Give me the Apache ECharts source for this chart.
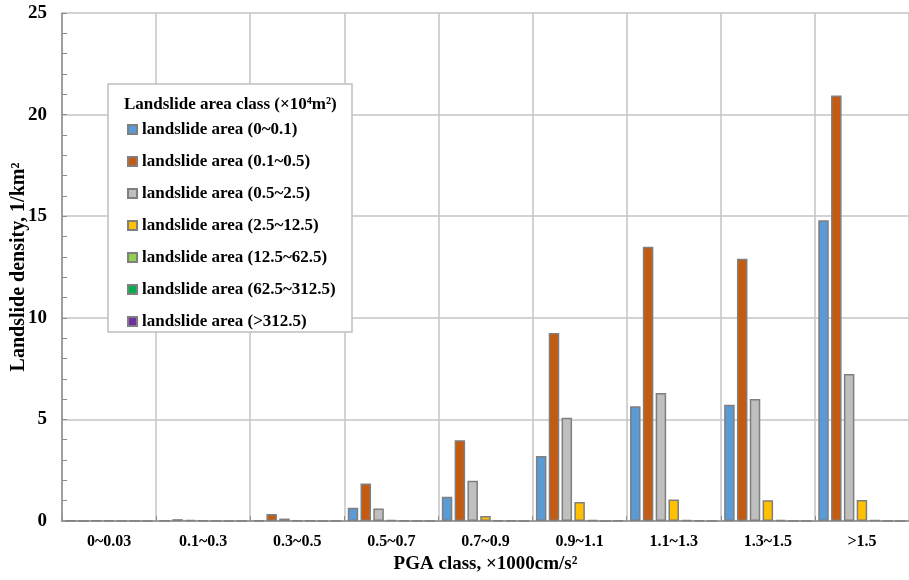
<!DOCTYPE html>
<html><head><meta charset="utf-8">
<script src="https://cdn.jsdelivr.net/npm/echarts@6/dist/echarts.min.js"></script>
<style>html,body{margin:0;padding:0;background:#fff}#c{width:909px;height:580px}</style>
</head><body><div id="c"></div>
<script>
var categories = ['0~0.03','0.1~0.3','0.3~0.5','0.5~0.7','0.7~0.9','0.9~1.1','1.1~1.3','1.3~1.5','>1.5'];
var seriesNames = ['landslide area (0~0.1)','landslide area (0.1~0.5)','landslide area (0.5~2.5)','landslide area (2.5~12.5)','landslide area (12.5~62.5)','landslide area (62.5~312.5)','landslide area (>312.5)'];
var area0_01   = [0.02, 0.02, 0.03, 0.65, 1.19, 3.2, 5.65, 5.72, 14.8];
var area01_05  = [0, 0.09, 0.35, 1.85, 3.98, 9.25, 13.5, 12.9, 20.94];
var area05_25  = [0.03, 0.05, 0.12, 0.62, 1.98, 5.08, 6.3, 6.0, 7.23];
var area25_125 = [0.03, 0.02, 0.03, 0.04, 0.25, 0.93, 1.06, 1.02, 1.03];
var area125_625 = [0, 0, 0.02, 0.03, 0.03, 0.04, 0.04, 0.04, 0.04];
var area625_3125 = [0, 0, 0, 0, 0.02, 0, 0.03, 0, 0];
var areaGt3125 = [0, 0, 0, 0, 0, 0.03, 0, 0, 0];
var yTicks = [0, 5, 10, 15, 20, 25];
var colors = ['#5B9BD5','#C55A11','#BFBFBF','#FFC000','#92D050','#00B050','#7030A0'];
var allData = [area0_01, area01_05, area05_25, area25_125, area125_625, area625_3125, areaGt3125];

var FONT = '"Liberation Serif","Times New Roman",serif';
var chart = echarts.init(document.getElementById('c'));
var series = allData.map(function(d, i){
  return {
    name: seriesNames[i], type: 'bar', data: d,
    barWidth: 10.5, barGap: '22%',
    itemStyle: {color: colors[i], borderColor: '#7F7F7F', borderWidth: 1.5},
    z: 2
  };
});
chart.setOption({
  animation: false,
  textStyle: {fontFamily: FONT},
  grid: {left: 62, right: 0, top: 13, bottom: 59, containLabel: false, outerBoundsMode: 'none'},
  title: {
    text: 'Landslide area class (×10⁴m²)',
    left: 119, top: 91, z: 20,
    textStyle: {fontFamily: FONT, fontWeight: 'bold', fontSize: 17, color: '#000'}
  },
  graphic: [{
    type: 'rect', z: 10,
    shape: {x: 108, y: 84, width: 244, height: 248},
    style: {fill: '#fff', stroke: '#BFBFBF', lineWidth: 1.5}
  }],
  legend: {
    orient: 'vertical', left: 127, top: 121, z: 20,
    padding: 0, itemGap: 15, itemWidth: 9, itemHeight: 9,
    icon: 'rect',
    textStyle: {fontFamily: FONT, fontWeight: 'bold', fontSize: 17, color: '#000', lineHeight: 16}
  },
  xAxis: {
    type: 'category', data: categories,
    name: 'PGA class, ×1000cm/s²', nameLocation: 'middle', nameGap: 34, nameMoveOverlap: false,
    nameTextStyle: {fontFamily: FONT, fontWeight: 'bold', fontSize: 19, color: '#000'},
    axisLine: {lineStyle: {color: '#8C8C8C', width: 1.5}},
    axisTick: {show: true, inside: true, length: 5, lineStyle: {color: '#8C8C8C'}},
    axisLabel: {fontFamily: FONT, fontWeight: 'bold', fontSize: 16, color: '#000', margin: 13},
    splitLine: {show: true, lineStyle: {color: '#C4C4C4', width: 1.5}}
  },
  yAxis: {
    type: 'value', min: yTicks[0], max: yTicks[yTicks.length-1], interval: 5,
    name: 'Landslide density, 1/km²', nameLocation: 'middle', nameGap: 33, nameMoveOverlap: false,
    nameTextStyle: {fontFamily: FONT, fontWeight: 'bold', fontSize: 20, color: '#000'},
    axisLine: {show: true, lineStyle: {color: '#8C8C8C', width: 1.5}},
    axisTick: {show: true, inside: true, length: 5, lineStyle: {color: '#8C8C8C'}},
    minorTick: {show: true, splitNumber: 5, length: 5, lineStyle: {color: '#8C8C8C'}},
    axisLabel: {fontFamily: FONT, fontWeight: 'bold', fontSize: 19, color: '#000', margin: 15},
    splitLine: {show: true, lineStyle: {color: '#C4C4C4', width: 1.5}}
  },
  series: series
});
</script></body></html>
